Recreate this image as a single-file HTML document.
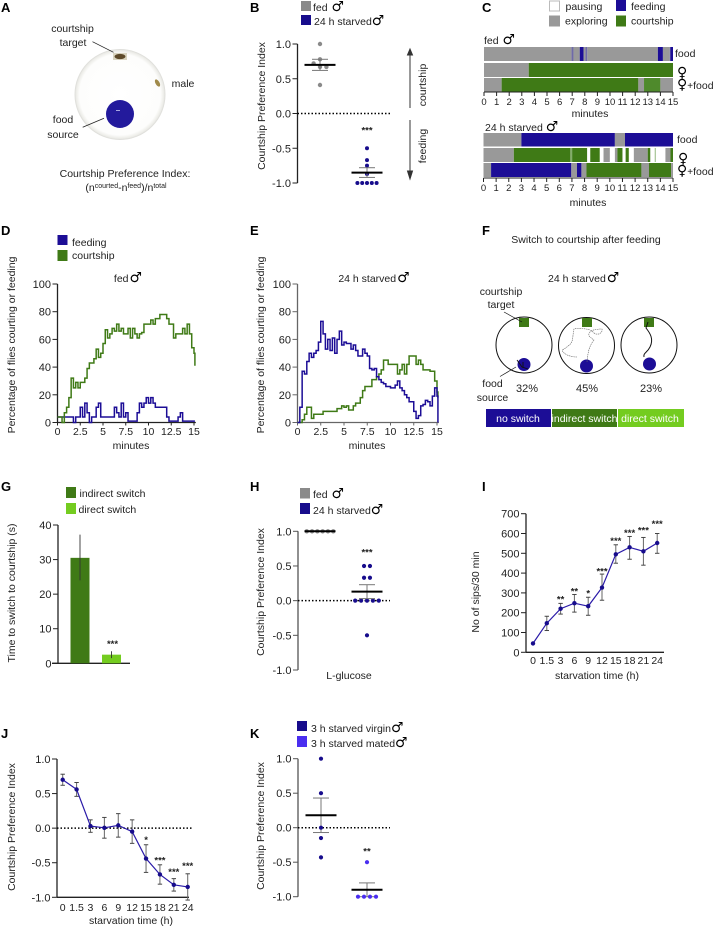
<!DOCTYPE html>
<html lang="en">
<head>
<meta charset="utf-8">
<title>Courtship and feeding figure</title>
<style>
html,body{margin:0;padding:0;background:#fff;width:714px;height:926px;overflow:hidden}
svg{display:block}
text{font-family:"Liberation Sans","DejaVu Sans",sans-serif;font-size:10.5px;fill:#222}
.let{font-weight:bold;font-size:13px;fill:#000}
.m{font-family:"DejaVu Sans",sans-serif;font-size:14px;fill:#000}
.mid{text-anchor:middle}
.sm{font-size:10px}
.wh{fill:#fff;font-size:10.5px;text-anchor:middle}
.pct{font-size:11px}
</style>
</head>
<body>
<svg id="fig" xmlns="http://www.w3.org/2000/svg" width="714" height="926" viewBox="0 0 714 926">
<defs>
<radialGradient id="dishFill" cx="50%" cy="50%" r="50%"><stop offset="0" stop-color="#ffffff"/><stop offset=".9" stop-color="#fdfdfc"/><stop offset=".96" stop-color="#f0f0ec"/><stop offset="1" stop-color="#e6e6e2"/></radialGradient>
</defs>

<!-- panel letters -->
<text class="let" x="1" y="12">A</text>
<text class="let" x="250" y="12">B</text>
<text class="let" x="482" y="12">C</text>
<text class="let" x="1" y="235">D</text>
<text class="let" x="250" y="235">E</text>
<text class="let" x="482" y="235">F</text>
<text class="let" x="1" y="491">G</text>
<text class="let" x="250" y="491">H</text>
<text class="let" x="482" y="491">I</text>
<text class="let" x="1" y="738">J</text>
<text class="let" x="250" y="738">K</text>

<!-- A -->
<g>
<circle cx="120" cy="94.5" r="45" fill="url(#dishFill)" stroke="#e0e0dc" stroke-width="1"/>
<circle cx="120" cy="114" r="14" fill="#231a9c"/>
<rect x="116" y="110" width="4" height=".8" fill="#c8c8f0"/>
<rect x="113" y="53" width="14" height="7" fill="#d9d4c0"/>
<ellipse cx="120" cy="56.500" rx="5.500" ry="2.600" fill="#5e4a2a"/>
<ellipse cx="157.500" cy="83" rx="2" ry="4" transform="rotate(-30 157.500 83)" fill="#a08a4a"/>
<line x1="92.500" y1="41.700" x2="113.500" y2="52.300" stroke="#222" stroke-width=".8"/>
<line x1="82.700" y1="127.300" x2="104" y2="118.300" stroke="#222" stroke-width=".8"/>
</g>
<text class="mid" x="72.500" y="32">courtship</text>
<text class="mid" x="73" y="46">target</text>
<text class="mid" x="63" y="123">food</text>
<text class="mid" x="63" y="138">source</text>
<text class="mid" x="183" y="87">male</text>
<text class="mid" x="125" y="177">Courtship Preference Index:</text>
<text class="mid" x="126" y="191">(n<tspan font-size="7" dy="-3" style="font-size:7px">courted</tspan><tspan dy="3">-n</tspan><tspan dy="-3" style="font-size:7px">feed</tspan><tspan dy="3">)/n</tspan><tspan dy="-3" style="font-size:7px">total</tspan></text>

<!-- B legend -->
<rect x="301" y="1" width="10" height="10" fill="#8a8a8a"/>
<text x="313" y="11">fed <tspan class="m" dx="1">♂</tspan></text>
<rect x="301" y="15" width="10" height="10" fill="#170c8c"/>
<text x="314" y="25">24 h starved<tspan class="m">♂</tspan></text>
<g stroke="#333" stroke-width="1" fill="#333">
<line x1="410" y1="53" x2="410" y2="108"/><path d="M407.500 55 L410 49 L412.500 55 Z"/>
<line x1="410" y1="120" x2="410" y2="176"/><path d="M407.500 171 L410 179 L412.500 171 Z"/>
</g>
<text class="mid" transform="translate(426 85) rotate(-90)">courtship</text>
<text class="mid" transform="translate(426 146) rotate(-90)">feeding</text>

<!-- C legend -->
<rect x="549.500" y="1" width="10" height="10" fill="#fff" stroke="#bbb"/>
<text x="565.500" y="10">pausing</text>
<rect x="549" y="15.500" width="11" height="11" fill="#999"/>
<text x="565" y="24.500">exploring</text>
<rect x="616" y="0" width="10" height="11" fill="#1c0d96"/>
<text x="631" y="10">feeding</text>
<rect x="616" y="15.500" width="10" height="11" fill="#3f7a16"/>
<text x="631" y="24.500">courtship</text>
<text x="484" y="44">fed <tspan class="m" dx="1">♂</tspan></text>
<text x="485" y="131">24 h starved <tspan class="m">♂</tspan></text>
<text x="675" y="57">food</text>
<text class="m" x="677" y="77">♀</text>
<text x="677" y="89"><tspan class="m">♀</tspan><tspan class="sm">+</tspan>food</text>
<text x="677" y="143">food</text>
<text class="m" x="678" y="163">♀</text>
<text x="677" y="175"><tspan class="m">♀</tspan><tspan class="sm">+</tspan>food</text>

<!-- D/E legend -->
<rect x="57.500" y="235" width="10" height="10" fill="#1c0d96"/>
<text x="72" y="246">feeding</text>
<rect x="57.500" y="250" width="10" height="11" fill="#3f7a16"/>
<text x="72" y="259">courtship</text>
<text class="mid" x="128" y="282">fed<tspan class="m" dx="1">♂</tspan></text>
<text class="mid" x="374" y="282">24 h starved<tspan class="m" dx="1">♂</tspan></text>

<!-- F -->
<g>
<text class="mid" x="586" y="243">Switch to courtship after feeding</text>
<text x="548" y="282">24 h starved<tspan class="m" dx="1">♂</tspan></text>
<text class="mid" x="501" y="295">courtship</text>
<text class="mid" x="501" y="308">target</text>
<text class="mid" x="492.500" y="387">food</text>
<text class="mid" x="492.500" y="401">source</text>
<circle cx="524" cy="345" r="28" fill="#fff" stroke="#111" stroke-width="1"/>
<circle cx="586.500" cy="345.500" r="28" fill="#fff" stroke="#111" stroke-width="1"/>
<circle cx="649" cy="345" r="28" fill="#fff" stroke="#111" stroke-width="1"/>
<rect x="519" y="318" width="10" height="9" fill="#3f7a16"/>
<rect x="582" y="318" width="10" height="9" fill="#3f7a16"/>
<rect x="644" y="318" width="10" height="9" fill="#3f7a16"/>
<circle cx="524" cy="364.500" r="6.500" fill="#1c0d96"/>
<circle cx="586.500" cy="366" r="6.500" fill="#1c0d96"/>
<circle cx="649.500" cy="364" r="6.500" fill="#1c0d96"/>
<line x1="504" y1="312" x2="522" y2="322" stroke="#111" stroke-width=".7"/>
<line x1="500" y1="376.500" x2="516" y2="367" stroke="#111" stroke-width=".7"/>
<path d="M517 360 L522 367 L528 369 M523 362 L523 368" fill="none" stroke="#111" stroke-width=".9"/>
<path d="M587 362 C588 350 590 345 594 340 C590 337 587 336 590 332 C593 329 600 329 602 329 C603 334 596 336 593 332 C590 328 576 328 574 329 C572 338 574 342 568 346 C564 350 561 349 563 352 C566 355 571 357 577 357" fill="none" stroke="#666" stroke-width=".6" stroke-dasharray="1.500 .7"/>
<path d="M644 357 C643 353 647 353 650 347 C654 339 650 333 646 328 L648 322" fill="none" stroke="#111" stroke-width="1"/>
<text class="mid pct" x="527" y="392">32%</text>
<text class="mid pct" x="587" y="392">45%</text>
<text class="mid pct" x="651" y="392">23%</text>
<rect x="486" y="409" width="65" height="18" fill="#1c0d96"/>
<rect x="552" y="409" width="65" height="18" fill="#3f7a16"/>
<rect x="618" y="409" width="66" height="18" fill="#74cc20"/>
<text class="wh" x="518" y="422">no switch</text>
<text class="wh" x="584.500" y="422">indirect switch</text>
<text class="wh" x="650" y="422">direct switch</text>
</g>

<!-- G legend -->
<rect x="66" y="487" width="10" height="11" fill="#3f7a16"/>
<text x="79.500" y="497">indirect switch</text>
<rect x="66" y="503" width="10" height="11" fill="#74cc20"/>
<text x="78.500" y="513">direct switch</text>

<!-- H legend -->
<rect x="300" y="488" width="10" height="10.500" fill="#8a8a8a"/>
<text x="313" y="498">fed <tspan class="m" dx="1">♂</tspan></text>
<rect x="300" y="503" width="10" height="11" fill="#170c8c"/>
<text x="313" y="514">24 h starved<tspan class="m">♂</tspan></text>
<text class="mid" x="349" y="679">L-glucose</text>

<!-- K legend -->
<rect x="297" y="721" width="10" height="10" fill="#170c8c"/>
<text x="311" y="732">3 h starved virgin<tspan class="m">♂</tspan></text>
<rect x="297" y="736" width="10" height="11" fill="#4a2ef0"/>
<text x="311" y="747">3 h starved mated<tspan class="m">♂</tspan></text>

<!-- axis titles -->
<text class="mid" transform="translate(265 106) rotate(-90)">Courtship Preference Index</text>
<text class="mid" transform="translate(15 345) rotate(-90)">Percentage of flies courting or feeding</text>
<text class="mid" transform="translate(264 345) rotate(-90)">Percentage of flies courting or feeding</text>
<text class="mid" transform="translate(15 593) rotate(-90)">Time to switch to courtship (s)</text>
<text class="mid" transform="translate(264 592) rotate(-90)">Courtship Preference Index</text>
<text class="mid" transform="translate(479 592) rotate(-90)">No of sips/30 min</text>
<text class="mid" transform="translate(15 827) rotate(-90)">Courtship Preference Index</text>
<text class="mid" transform="translate(264 826) rotate(-90)">Courtship Preference Index</text>
<text class="mid" x="131" y="449">minutes</text>
<text class="mid" x="367" y="449">minutes</text>
<text class="mid" x="597" y="679">starvation time (h)</text>
<text class="mid" x="131" y="924">starvation time (h)</text>
<text class="mid" x="590" y="117">minutes</text>
<text class="mid" x="588" y="206">minutes</text>
</svg>

<script>
/* ---------- panel B ---------- */
const bFedValues = [1, 0.78, 0.72, 0.67, 0.67, 0.41];
const bStarvedValues = [-0.5, -0.67, -0.75, -0.87, -1, -1, -1, -1, -1];
const bMeans = [0.7, -0.85];
const bErrors = [0.08, 0.07];
const indexTicks = [1, 0.5, 0, -0.5, -1];
const indexTickLabels = ['1.0', '0.5', '0.0', '-0.5', '-1.0'];

/* ---------- panel C: [state, start minute, end minute] ---------- */
const minuteTicks = [0,1,2,3,4,5,6,7,8,9,10,11,12,13,14,15];
const fedFoodRow = [['exploring',0,6.95],['faint',6.95,7.1],['exploring',7.1,7.6],['feeding',7.6,7.9],['exploring',7.9,8.05],['faint',8.05,8.2],['exploring',8.2,13.8],['feeding',13.8,14.2],['exploring',14.2,14.75],['faint',14.75,14.8],['feeding',14.8,15]];
const fedFemaleRow = [['exploring',0,3.55],['courtship',3.55,15]];
const fedBothRow = [['exploring',0,1.4],['courtship',1.4,12.25],['exploring',12.25,12.7],['courtshipLight',12.7,14],['exploring',14,15]];
const starvedFoodRow = [['exploring',0,3],['feeding',3,10.4],['exploring',10.4,11.2],['feeding',11.2,15]];
const starvedFemaleRow = [['exploring',0,2.4],['courtship',2.4,6.9],['courtshipLight',6.95,7.05],['courtship',7.05,8.2],['courtship',8.45,9.2],['exploring',9.5,10],['exploring',10.4,10.6],['courtship',10.6,11],['courtship',11.25,11.5],['exploring',11.9,13],['courtship',13,13.2],['faint2',13.55,13.65],['exploring',14.4,14.8],['courtship',14.8,15]];
const starvedBothRow = [['exploring',0,0.6],['feeding',0.6,6.95],['exploring',6.95,7.4],['feeding',7.4,7.75],['exploring',7.75,8.15],['courtship',8.15,12.5],['exploring',12.5,13.1],['courtship',13.1,14.85],['exploring',14.85,15]];

/* ---------- panels D / E: sampled every 0.25 min, final value held to 15.1 ---------- */
const percentTicks = [0, 20, 40, 60, 80, 100];
const timeTicks = [0, 2.5, 5, 7.5, 10, 12.5, 15];
const timeTickLabels = ['0', '2.5', '5', '7.5', '10', '12.5', '15'];
const dCourtship = [4,4,0,7,11,18,32,25,29,25,29,29,32,39,43,43,46,53,47,50,57,67,61,64,68,66,71,66,68,64,64,68,61,68,64,61,64,65,71,71,71,74,71,75,75,78,78,78,75,71,71,61,64,64,64,68,64,71,64,54,50,41];
const dFeeding = [4,4,4,4,4,4,4,0,4,4,11,4,14,7,0,4,4,11,14,4,4,4,4,4,4,11,7,4,14,4,7,1,1,1,1,7,14,11,14,18,14,18,14,11,11,11,11,11,4,1,1,1,1,4,7,1,1,1,1,1,1,1];
const eFeeding = [0,11,37,35,44,50,47,50,52,58,73,64,53,60,52,61,50,60,66,56,58,57,57,53,56,52,48,48,53,50,48,39,38,39,33,31,29,28,26,26,25,25,27,30,25,23,20,18,15,15,8,3,5,12,13,16,15,12,19,25,19,0];
const eCourtship = [0,0,2,6,11,11,3,6,6,6,6,8,8,8,8,8,8,10,10,12,11,12,9,9,12,14,14,18,23,26,26,26,31,31,33,35,38,45,45,42,42,42,42,35,38,42,35,42,48,48,48,42,45,42,38,38,38,37,37,30,22,18];

/* ---------- panel G ---------- */
const switchMeans = [30.5, 2.5];
const switchLow = [24, 1.5];
const switchHigh = [37.2, 3.5];
const switchTicks = [0, 10, 20, 30, 40];

/* ---------- panel H ---------- */
const hFedValues = [1, 1, 1, 1, 1, 1];
const hStarvedValues = [0.5, 0.5, 0.33, 0.33, 0, 0, 0, 0, 0, -0.5];
const hMeans = [1, 0.13];
const hErrors = [0, 0.1];

/* ---------- panel I ---------- */
const hourLabels = ['0', '1.5', '3', '6', '9', '12', '15', '18', '21', '24'];
const sipsMean = [45, 147, 220, 248, 233, 327, 495, 530, 510, 552];
const sipsLow = [45, 110, 193, 203, 187, 263, 450, 470, 440, 500];
const sipsHigh = [45, 182, 247, 292, 278, 395, 543, 585, 580, 600];
const sipsStars = ['', '', '**', '**', '*', '***', '***', '***', '***', '***'];
const sipsStarLevel = [0, 0, 271, 311, 301, 414, 567, 607, 621, 654];
const sipsTicks = [0, 100, 200, 300, 400, 500, 600, 700];

/* ---------- panel J ---------- */
const indexByHourMean = [0.7, 0.56, 0.03, 0.005, 0.04, -0.05, -0.44, -0.67, -0.82, -0.85];
const indexByHourError = [0.08, 0.1, 0.09, 0.15, 0.17, 0.17, 0.2, 0.14, 0.09, 0.19];
const indexStars = ['', '', '', '', '', '', '*', '***', '***', '***'];
const indexStarLevel = [0, 0, 0, 0, 0, 0, -0.16, -0.45, -0.62, -0.53];

/* ---------- panel K ---------- */
const kVirginValues = [1, 0.5, 0, -0.15, -0.43];
const kMatedValues = [-0.5, -1, -1, -1, -1];
const kMeans = [0.18, -0.9];
const kErrors = [0.25, 0.1];

/* ---------- helpers ---------- */
const NS = 'http://www.w3.org/2000/svg';
const fig = document.getElementById('fig');
const BLUE = '#1c0d96', GREEN = '#3f7a16', LIME = '#74cc20', GREY = '#8a8a8a', DARKBLUE = '#170c8c', VIOLET = '#4a2ef0';
const stateColors = {exploring:'#999999', feeding:BLUE, courtship:GREEN, courtshipLight:'#4f8a2c', faint:'#6f6aa8', faint2:'#a9c79a'};

function linear(d0, d1, r0, r1) {
  return function (v) { return r0 + (v - d0) * (r1 - r0) / (d1 - d0); };
}
function mk(tag, attrs, name) {
  const el = document.createElementNS(NS, tag);
  for (const k in attrs) el.setAttribute(k, attrs[k]);
  
  
  fig.appendChild(el);
  return el;
}
function line(x1, y1, x2, y2, stroke, w, name, dash) {
  const a = {x1: x1, y1: y1, x2: x2, y2: y2, stroke: stroke, 'stroke-width': w};
  if (dash) a['stroke-dasharray'] = dash;
  return mk('line', a, name);
}
function label(x, y, str, anchor, name, size) {
  const t = mk('text', {x: x, y: y, 'text-anchor': anchor}, name);
  if (size) t.style.fontSize = size + 'px';
  t.textContent = str;
  return t;
}
function yAxis(ax, scale, ticks, labels, color, prefix, top, bottom) {
  line(ax, scale(top), ax, scale(bottom), color, 1.3, prefix + '-y-axis');
  ticks.forEach(function (t, i) {
    line(ax - 5, scale(t), ax, scale(t), color, 1, prefix + '-y-tick');
    label(ax - 6.5, scale(t) + 4, labels[i], 'end', prefix + '-y-tick-label', 11);
  });
}
function zeroLine(x0, x1, y, name) {
  line(x0, y, x1, y, '#000', 1.5, name, '1.5 2');
}
function swarm(values, cx, step, scale, color, r, prefix, gap) {
  const groups = [];
  values.forEach(function (v) {
    const g = groups[groups.length - 1];
    if (g && Math.abs(g[0] - v) < gap) g.push(v); else groups.push([v]);
  });
  groups.forEach(function (g) {
    g.forEach(function (v, i) {
      mk('circle', {cx: cx + (i - (g.length - 1) / 2) * step, cy: scale(v), r: r, fill: color}, prefix + '-point');
    });
  });
}
function meanBar(cx, mean, err, scale, prefix) {
  const c = '#777';
  if (err > 0) {
    line(cx, scale(mean + err), cx, scale(mean - err), c, 1, prefix + '-error-bar');
    line(cx - 8, scale(mean + err), cx + 8, scale(mean + err), c, 1, prefix + '-error-cap');
    line(cx - 8, scale(mean - err), cx + 8, scale(mean - err), c, 1, prefix + '-error-cap');
  }
  line(cx - 15.5, scale(mean), cx + 15.5, scale(mean), '#000', 2, prefix + '-mean-bar');
}
function stars(x, y, str, name) {
  const t = label(x, y + 4, str, 'middle', name, 9.5);
  t.style.fontWeight = 'bold';
  return t;
}

/* ---------- B ---------- */
const yB = linear(-1, 1, 183, 44);
yAxis(297.5, yB, indexTicks, indexTickLabels, '#222', 'b', 1, -1);
zeroLine(297.5, 390, yB(0), 'b-zero-line');
swarm(bFedValues, 320, 6.4, yB, '#8a8a8a', 2.2, 'b-fed', 0.06);
swarm(bStarvedValues, 367, 4.8, yB, DARKBLUE, 2, 'b-starved', 0.06);
meanBar(320, bMeans[0], bErrors[0], yB, 'b-fed');
meanBar(367, bMeans[1], bErrors[1], yB, 'b-starved');
stars(367, yB(-0.23), '***', 'b-significance');

/* ---------- C ---------- */
function raster(row, x, y, h, name) {
  row.forEach(function (seg) {
    mk('rect', {x: x(seg[1]), y: y, width: x(seg[2]) - x(seg[1]), height: h, fill: stateColors[seg[0]]}, name + '-' + seg[0]);
  });
}
function minuteAxis(x, y, prefix) {
  line(x(0), y, x(15), y, '#222', 1, prefix + '-x-axis');
  minuteTicks.forEach(function (t) {
    line(x(t), y, x(t), y + 4, '#222', 1, prefix + '-x-tick');
    label(x(t), y + 13, String(t), 'middle', prefix + '-x-tick-label', 9.5);
  });
}
const xCFed = linear(0, 15, 484, 673);
raster(fedFoodRow, xCFed, 47, 14, 'fed-food-row');
raster(fedFemaleRow, xCFed, 63, 14, 'fed-female-row');
raster(fedBothRow, xCFed, 78, 13.500, 'fed-both-row');
minuteAxis(xCFed, 92, 'c-fed');
const xCStarved = linear(0, 15, 483.500, 673);
raster(starvedFoodRow, xCStarved, 133, 13.500, 'starved-food-row');
raster(starvedFemaleRow, xCStarved, 148, 14, 'starved-female-row');
raster(starvedBothRow, xCStarved, 163, 14, 'starved-both-row');
minuteAxis(xCStarved, 178, 'c-starved');

/* ---------- D / E ---------- */
function stepPath(values, x, y) {
  let d = '';
  values.forEach(function (v, i) {
    const t = Math.min(i * 0.25, 15.1);
    d += i === 0 ? 'M' + x(t) + ' ' + y(v) : 'H' + x(t) + 'V' + y(v);
  });
  return d;
}
function timeChart(ax, x15, courtship, feeding, prefix, axisColor, feedOnTop) {
  const y = linear(0, 100, 422.5, 284);
  const x = linear(0, 15, ax, x15);
  yAxis(ax, y, percentTicks, percentTicks.map(String), axisColor, prefix, 100, 0);
  line(ax, y(0), x(15.2), y(0), axisColor, 1.3, prefix + '-x-axis');
  timeTicks.forEach(function (t, i) {
    line(x(t), y(0), x(t), y(0) + 3, axisColor, 1, prefix + '-x-tick');
    label(x(t), 435, timeTickLabels[i], 'middle', prefix + '-x-tick-label', 10.5);
  });
  const draw = [[courtship, GREEN, 'courtship'], [feeding, BLUE, 'feeding']];
  if (!feedOnTop) draw.reverse();
  draw.forEach(function (s) {
    mk('path', {d: stepPath(s[0], x, y), fill: 'none', stroke: s[1], 'stroke-width': 1.5}, prefix + '-' + s[2] + '-line');
  });
}
timeChart(57.5, 194, dCourtship, dFeeding, 'd', '#222', false);
timeChart(297.5, 437, eCourtship, eFeeding, 'e', '#666', true);

/* ---------- G ---------- */
const yG = linear(0, 40, 663.3, 525);
yAxis(58, yG, switchTicks, switchTicks.map(String), '#222', 'g', 40, 0);
line(52, yG(0), 130, yG(0), '#222', 1.3, 'g-x-axis');
const gBarCenters = [80, 111.5];
[GREEN, LIME].forEach(function (c, i) {
  mk('rect', {x: gBarCenters[i] - 9.5, y: yG(switchMeans[i]), width: 19, height: yG(0) - yG(switchMeans[i]), fill: c}, i ? 'bar-direct-switch' : 'bar-indirect-switch');
  line(gBarCenters[i], yG(switchHigh[i]), gBarCenters[i], yG(switchLow[i]), '#333', 0.9, 'g-error-bar');
});
stars(112.5, yG(5.9), '***', 'g-significance');

/* ---------- H ---------- */
const yH = linear(-1, 1, 670, 531.3);
yAxis(298, yH, indexTicks, indexTickLabels, '#555', 'h', 1, -1);
zeroLine(298, 390, yH(0), 'h-zero-line');
swarm(hFedValues, 320, 5.3, yH, '#8a8a8a', 2.2, 'h-fed', 0.06);
swarm(hStarvedValues, 367, 5.9, yH, DARKBLUE, 2.1, 'h-starved', 0.06);
meanBar(320, hMeans[0], hErrors[0], yH, 'h-fed');
meanBar(367, hMeans[1], hErrors[1], yH, 'h-starved');
stars(367, yH(0.71), '***', 'h-significance');

/* ---------- I / J line charts ---------- */
function hourChart(yScale, x0, step, means, lows, highs, prefix) {
  const x = function (i) { return x0 + i * step; };
  means.forEach(function (m, i) {
    const xi = x(i);
    if (highs[i] !== lows[i]) {
      line(xi, yScale(highs[i]), xi, yScale(lows[i]), '#666', 1, prefix + '-error-bar');
      line(xi - 2.2, yScale(highs[i]), xi + 2.2, yScale(highs[i]), '#444', 1, prefix + '-error-cap');
      line(xi - 2.2, yScale(lows[i]), xi + 2.2, yScale(lows[i]), '#444', 1, prefix + '-error-cap');
    }
  });
  let d = '';
  means.forEach(function (m, i) { d += (i ? 'L' : 'M') + x(i) + ' ' + yScale(m); });
  mk('path', {d: d, fill: 'none', stroke: '#2a1aa8', 'stroke-width': 1.2}, prefix + '-mean-line');
  means.forEach(function (m, i) {
    mk('circle', {cx: x(i), cy: yScale(m), r: 2.2, fill: DARKBLUE}, prefix + '-mean-point');
  });
  return x;
}
const yI = linear(0, 700, 652.3, 513.7);
yAxis(526, yI, sipsTicks, sipsTicks.map(String), '#222', 'i', 700, 0);
line(526, yI(0), 664, yI(0), '#222', 1.3, 'i-x-axis');
const xI = hourChart(yI, 533, 13.8, sipsMean, sipsLow, sipsHigh, 'i');
hourLabels.forEach(function (h, i) {
  label(xI(i), 664, h, 'middle', 'i-x-tick-label', 10.5);
  if (sipsStars[i]) stars(xI(i), yI(sipsStarLevel[i]), sipsStars[i], 'i-significance');
});

const yJ = linear(-1, 1, 897.3, 759);
yAxis(57, yJ, indexTicks, indexTickLabels, '#222', 'j', 1, -1);
line(57, yJ(-1), 189, yJ(-1), '#222', 1.3, 'j-x-axis');
zeroLine(57, 192, yJ(0), 'j-zero-line');
const xJ = hourChart(yJ, 62.7, 13.89, indexByHourMean,
  indexByHourMean.map(function (m, i) { return m - indexByHourError[i]; }),
  indexByHourMean.map(function (m, i) { return m + indexByHourError[i]; }), 'j');
hourLabels.forEach(function (h, i) {
  label(xJ(i), 911, h, 'middle', 'j-x-tick-label', 10.5);
  if (indexStars[i]) stars(xJ(i), yJ(indexStarLevel[i]), indexStars[i], 'j-significance');
});

/* ---------- K ---------- */
const yK = linear(-1, 1, 896.7, 758.7);
yAxis(298, yK, indexTicks, indexTickLabels, '#555', 'k', 1, -1);
meanBar(321, kMeans[0], kErrors[0], yK, 'k-virgin');
meanBar(367, kMeans[1], kErrors[1], yK, 'k-mated');
zeroLine(298, 390, yK(0), 'k-zero-line');
swarm(kVirginValues, 321, 6, yK, DARKBLUE, 2.1, 'k-virgin', 0.06);
swarm(kMatedValues, 367, 6, yK, VIOLET, 2.1, 'k-mated', 0.06);
stars(367, yK(-0.33), '**', 'k-significance');
</script>
</body>
</html>
